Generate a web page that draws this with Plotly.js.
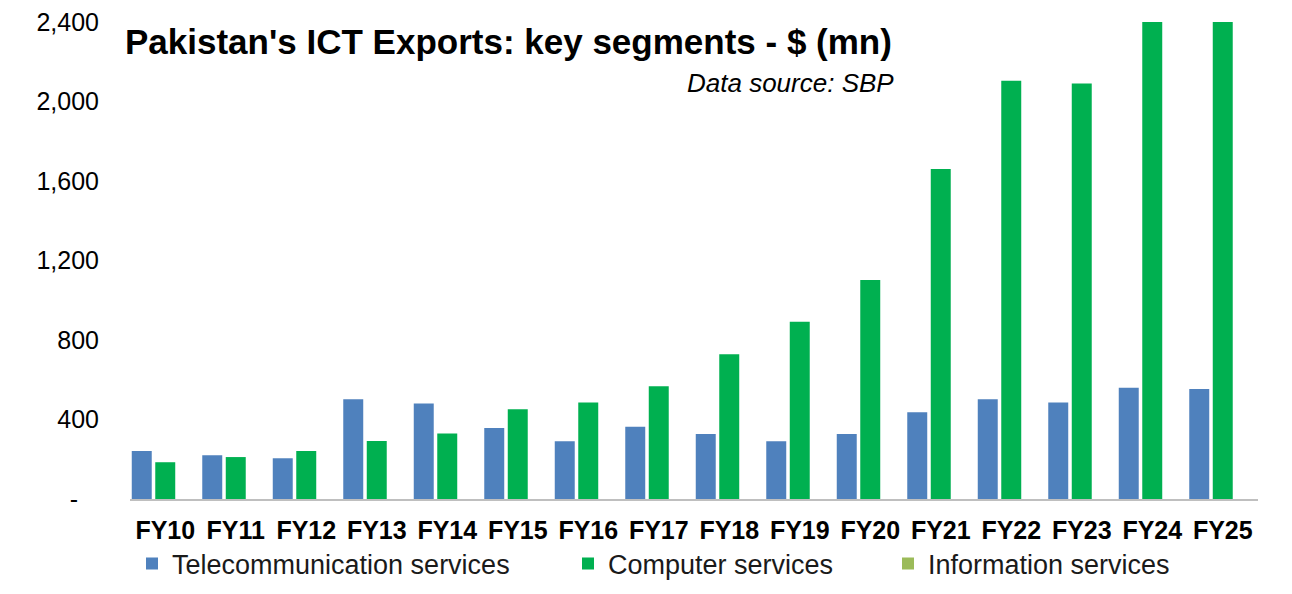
<!DOCTYPE html>
<html>
<head>
<meta charset="utf-8">
<script src="https://cdn.plot.ly/plotly-3.0.1.min.js"></script>
<style>
html,body{margin:0;padding:0;background:#fff;}
#chart{width:1292px;height:594px;}
</style>
</head>
<body>
<div id="chart"></div>
<script>
const categories = ["FY10","FY11","FY12","FY13","FY14","FY15","FY16","FY17","FY18","FY19","FY20","FY21","FY22","FY23","FY24","FY25"];
const telecom = [242, 220, 205, 502, 480, 357, 290, 364, 327, 290, 327, 436, 502, 486, 560, 553];
const computer = [185, 211, 242, 292, 329, 451, 486, 567, 728, 892, 1102, 1660, 2105, 2091, 2600, 2950];
const information = [0, 0, 0, 0, 0, 0, 0, 0, 0, 0, 0, 0, 0, 0, 0, 0];
const yTickVals = [0, 400, 800, 1200, 1600, 2000, 2400];
const yTickText = ["-\u00a0\u00a0\u00a0", "400", "800", "1,200", "1,600", "2,000", "2,400"];

const FONT = "Liberation Sans, Arial, sans-serif";

const traces = [
  {type:'bar', name:'Telecommunication services', x:categories, y:telecom,
   marker:{color:'#4F81BD'}, legend:'legend', hoverinfo:'x+y'},
  {type:'bar', name:'Computer services', x:categories, y:computer,
   marker:{color:'#00B050'}, legend:'legend2', hoverinfo:'x+y'},
  {type:'bar', name:'Information services', x:categories, y:information,
   marker:{color:'#9BBB59'}, legend:'legend3', hoverinfo:'x+y'}
];

const legendBase = {orientation:'h', xref:'container', yref:'container', xanchor:'left', yanchor:'middle',
  font:{family:FONT, size:27, color:'#1a1a1a'}, bgcolor:'rgba(0,0,0,0)', borderwidth:0, itemclick:false, itemdoubleclick:false};

const layout = {
  width:1292, height:594,
  paper_bgcolor:'#ffffff', plot_bgcolor:'#ffffff',
  margin:{l:130, r:34, t:22, b:95, pad:0},
  barmode:'group', bargap:0, bargroupgap:0.15,
  font:{family:FONT, color:'#000'},
  title:{text:"<b>Pakistan's ICT Exports: key segments - $ (mn)</b>", xref:'container', yref:'container',
    x:125/1292, xanchor:'left', y:1-42/594, yanchor:'middle', font:{family:FONT, size:35, color:'#000'}},
  xaxis:{type:'category', showgrid:false, zeroline:false, showline:true, linecolor:'#BFBFBF', linewidth:1.5,
    ticks:'', tickfont:{family:FONT, size:25, color:'#000', weight:'bold'}, ticklabelstandoff:8, fixedrange:true},
  yaxis:{range:[0,2400], tickvals:yTickVals, ticktext:yTickText, showgrid:false, zeroline:false, showline:false,
    ticks:'', tickfont:{family:FONT, size:25, color:'#000'}, ticklabelstandoff:30, fixedrange:true},
  showlegend:true,
  legend:Object.assign({}, legendBase, {x:132/1292, y:1-564/594}),
  legend2:Object.assign({}, legendBase, {x:568/1292, y:1-564/594}),
  legend3:Object.assign({}, legendBase, {x:888/1292, y:1-564/594}),
  annotations:[
    {text:"<i>Data source: SBP</i>", xref:'paper', yref:'paper', x:(896-130)/1128, xanchor:'right',
     y:(499-83)/477, yanchor:'middle', showarrow:false, font:{family:FONT, size:26, color:'#000'}}
  ]
};

Plotly.newPlot('chart', traces, layout, {staticPlot:true, displayModeBar:false});
</script>
</body>
</html>
